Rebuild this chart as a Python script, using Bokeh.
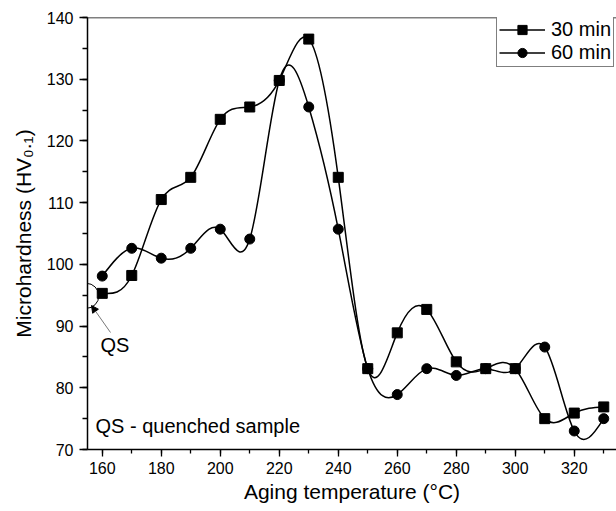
import numpy as np
from bokeh.plotting import figure
from bokeh.models import (Span, Label, Arrow, NormalHead, Legend, LegendItem,
                          Range1d, FixedTicker, ColumnDataSource)
from bokeh.embed import file_html
from bokeh.resources import INLINE

# ---------------- data ----------------
temps = [160, 170, 180, 190, 200, 210, 220, 230, 240, 250,
         260, 270, 280, 290, 300, 310, 320, 330]
hv_30min = [95.3, 98.2, 110.5, 114.1, 123.5, 125.5, 129.8, 136.5, 114.1, 83.1,
            88.9, 92.7, 84.2, 83.1, 83.1, 75.0, 75.9, 76.9]
hv_60min = [98.1, 102.6, 101.0, 102.6, 105.7, 104.1, 129.8, 125.5, 105.7, 83.1,
            78.9, 83.1, 82.0, 83.1, 83.1, 86.6, 73.0, 75.0]
series_names = ["30 min", "60 min"]
x_major_ticks = [160, 180, 200, 220, 240, 260, 280, 300, 320]
y_major_ticks = [70, 80, 90, 100, 110, 120, 130, 140]
qs_point = (154.6, 94.9)

FONT = "Liberation Sans"
W, H = 616, 511

# frame geometry (page px) used for placing annotations
FR_L, FR_T, FR_W, FR_H = 87, 17, 529, 432
FR_B = FR_T + FR_H
X0, X1 = 155, 155 + 529 / 2.95
Y0, Y1 = 70, 140


def px_to_x(px):
    return X0 + (px - FR_L) * (X1 - X0) / FR_W


def py_to_y(py):
    return Y1 - (py - FR_T) * (Y1 - Y0) / FR_H


def spline_segments(x, y):
    """Natural cubic spline through the points, as Bezier segments."""
    x = np.asarray(x, float)
    y = np.asarray(y, float)
    n = len(x)
    h = np.diff(x)
    A = np.zeros((n, n))
    r = np.zeros(n)
    A[0, 0] = 1
    A[-1, -1] = 1
    for i in range(1, n - 1):
        A[i, i - 1] = h[i - 1]
        A[i, i] = 2 * (h[i - 1] + h[i])
        A[i, i + 1] = h[i]
        r[i] = 6 * ((y[i + 1] - y[i]) / h[i] - (y[i] - y[i - 1]) / h[i - 1])
    M = np.linalg.solve(A, r)
    s = (y[1:] - y[:-1]) / h
    d0 = s - h * (2 * M[:-1] + M[1:]) / 6
    d1 = s + h * (M[:-1] + 2 * M[1:]) / 6
    return ColumnDataSource(dict(
        x0=x[:-1], y0=y[:-1], x1=x[1:], y1=y[1:],
        cx0=x[:-1] + h / 3, cy0=y[:-1] + h / 3 * d0,
        cx1=x[1:] - h / 3, cy1=y[1:] - h / 3 * d1))


p = figure(width=W, height=H, output_backend="svg", toolbar_location=None,
           x_range=Range1d(X0, X1), y_range=Range1d(Y0, Y1),
           min_border_left=FR_L, min_border_right=0, min_border_top=FR_T,
           min_border_bottom=H - FR_B)
p.grid.visible = False
p.outline_line_color = None
p.background_fill_color = "white"
p.border_fill_color = "white"

# axes
for ax in (p.xaxis[0], p.yaxis[0]):
    ax.axis_line_width = 1.5
    ax.axis_line_color = "black"
    ax.major_tick_line_color = "black"
    ax.minor_tick_line_color = "black"
    ax.major_tick_line_width = 1.3
    ax.minor_tick_line_width = 1.3
    ax.major_tick_in = 0
    ax.minor_tick_in = 0
    ax.major_label_text_font = FONT
    ax.major_label_text_font_size = "16px"
    ax.major_label_text_color = "black"
    ax.axis_label_text_font = FONT
    ax.axis_label_text_font_style = "normal"
    ax.axis_label_text_color = "black"
    ax.axis_label_text_font_size = "21px"

p.xaxis.ticker = FixedTicker(ticks=x_major_ticks,
                             minor_ticks=list(range(160, 340, 10)))
p.yaxis.ticker = FixedTicker(ticks=y_major_ticks,
                             minor_ticks=list(range(70, 141, 5)))
p.xaxis.major_tick_out = 7
p.xaxis.minor_tick_out = 4
p.yaxis.major_tick_out = 8
p.yaxis.minor_tick_out = 5
p.xaxis.major_label_standoff = 5
p.yaxis.major_label_standoff = 6
p.xaxis.axis_label = "Aging temperature (°C)"
p.xaxis.axis_label_standoff = 3
p.yaxis.axis_label = "Microhardness (HV\u2080.\u2081)"
p.yaxis.axis_label_standoff = 9

# top frame line
p.add_layout(Span(location=Y1, dimension="width", line_color="black",
                  line_width=1.5))

# series
markers = ["square", "circle"]
renders = []
for vals, mk in zip([hv_30min, hv_60min], markers):
    src = spline_segments(temps, vals)
    b = p.bezier(x0="x0", y0="y0", x1="x1", y1="y1", cx0="cx0", cy0="cy0",
                 cx1="cx1", cy1="cy1", source=src, line_color="black",
                 line_width=1.5)
    s = p.scatter(temps, vals, marker=mk, size=10, fill_color="black",
                  line_color="black")
    renders.append([b, s])

legend = Legend(items=[LegendItem(label=n, renderers=r)
                       for n, r in zip(series_names, renders)],
                location=(496 - FR_L, FR_B - 67), orientation="vertical",
                label_text_font=FONT, label_text_font_size="20px",
                label_text_color="black", glyph_width=46, glyph_height=23,
                label_height=23, label_standoff=6, padding=2, spacing=0,
                margin=0, border_line_color="black", border_line_width=1,
                background_fill_alpha=1)
p.add_layout(legend)

# QS annotation
p.scatter([qs_point[0]], [qs_point[1]], marker="circle", size=25,
          fill_color=None, line_color="black", line_width=1)
p.add_layout(Arrow(end=NormalHead(size=7, fill_color="black",
                                  line_color="black"),
                   x_start=px_to_x(110), y_start=py_to_y(332),
                   x_end=px_to_x(91), y_end=py_to_y(305),
                   line_color="#555555", line_width=0.8))
p.add_layout(Label(x=px_to_x(100), y=py_to_y(344), text="QS",
                   text_font=FONT, text_font_size="20px",
                   text_color="black", text_baseline="alphabetic"))
p.add_layout(Label(x=px_to_x(95), y=py_to_y(425), text="QS - quenched sample",
                   text_font=FONT, text_font_size="20px",
                   text_color="black", text_baseline="alphabetic"))

open("out.html", "w").write(file_html(p, INLINE))
